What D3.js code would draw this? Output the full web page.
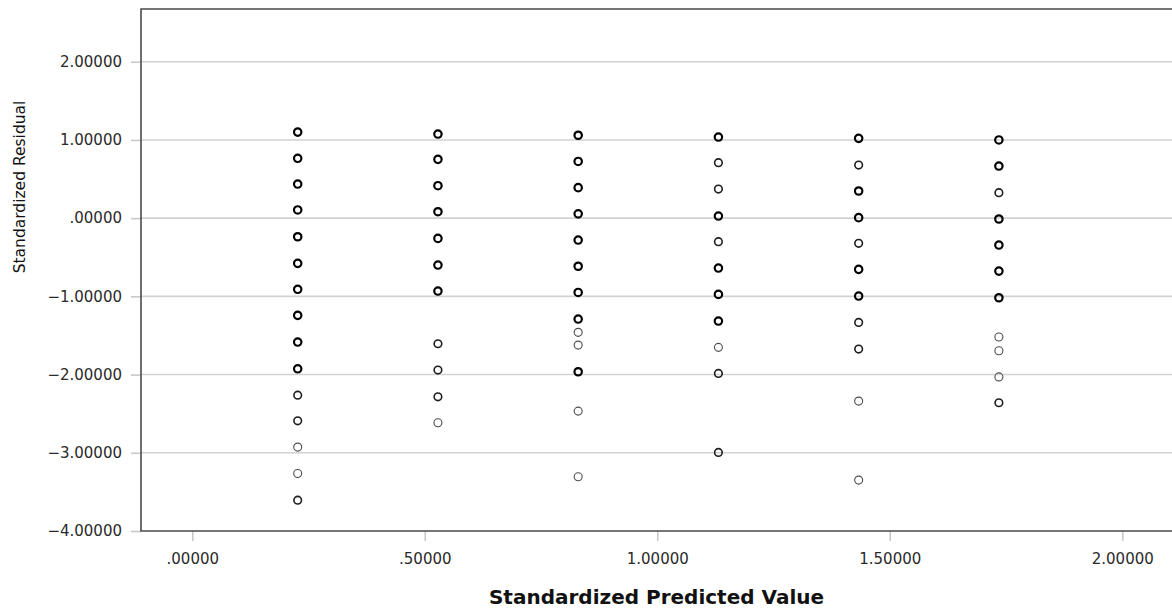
<!DOCTYPE html>
<html>
<head>
<meta charset="utf-8">
<script src="https://cdn.jsdelivr.net/npm/d3@7"></script>
<style>
  body { margin: 0; background: #fff; }
  svg { display: block; }
  .tick-label { font-family: "DejaVu Sans", sans-serif; font-size: 15px; fill: #2a2a2a; }
  .axis-title { font-family: "DejaVu Sans", sans-serif; fill: #111; }
</style>
</head>
<body>
<div id="chart"></div>
<script>
// Standardized predicted value of each column of points
const predicted = [0.2267, 0.5283, 0.8299, 1.1315, 1.4331, 1.7347];

// Standardized residuals (top to bottom)
const residuals = [
    [1.10, 0.765, 0.436, 0.105, -0.238, -0.578, -0.910, -1.243, -1.584, -1.926, -2.263, -2.591, -2.927, -3.264, -3.606],
    [1.075, 0.752, 0.415, 0.082, -0.259, -0.600, -0.932, -1.606, -1.942, -2.284, -2.616],
    [1.06, 0.725, 0.39, 0.055, -0.28, -0.615, -0.95, -1.290, -1.460, -1.623, -1.964, -2.467, -3.307],
    [1.037, 0.709, 0.372, 0.027, -0.301, -0.638, -0.975, -1.316, -1.652, -1.985, -2.995],
    [1.020, 0.679, 0.347, 0.006, -0.322, -0.655, -0.996, -1.333, -1.674, -2.339, -3.349],
    [1.000, 0.666, 0.325, -0.011, -0.344, -0.677, -1.018, -1.520, -1.695, -2.030, -2.360]
];

// How many cases sit on top of each other at each point (drawn darker)
const overlaps = [
    [3, 3, 3, 3, 3, 3, 3, 3, 3, 3, 2, 2, 1, 1, 2],
    [3, 3, 3, 3, 3, 3, 3, 2, 2, 2, 1],
    [3, 3, 3, 3, 3, 3, 3, 3, 1, 1, 3, 1, 1],
    [3, 2, 2, 3, 2, 3, 3, 3, 1, 2, 2],
    [3, 2, 3, 3, 2, 3, 3, 2, 2, 1, 1],
    [3, 3, 2, 3, 3, 3, 3, 1, 1, 1, 2]
];

const yTicks = [2, 1, 0, -1, -2, -3, -4];
const yTickLabels = ["2.00000", "1.00000", ".00000", "\u22121.00000", "\u22122.00000", "\u22123.00000", "\u22124.00000"];
const xTicks = [0, 0.5, 1, 1.5, 2];
const xTickLabels = [".00000", ".50000", "1.00000", "1.50000", "2.00000"];

const xTitle = "Standardized Predicted Value";
const yTitle = "Standardized Residual";

let width = 1172, height = 612;
let plot = {left: 141, top: 9, right: 1172, bottom: 531};

let svg = d3.select("#chart").append("svg")
    .attr("width", width)
    .attr("height", height);

let x = d3.scaleLinear().domain([-0.1103, 2.107]).range([plot.left, plot.right]);
let y = d3.scaleLinear().domain([-4, 2.674]).range([plot.bottom, plot.top]);

// horizontal gridlines
svg.append("g").selectAll("line")
    .data(yTicks.filter(d => d > -4))
    .enter().append("line")
    .attr("x1", plot.left).attr("x2", plot.right)
    .attr("y1", d => y(d)).attr("y2", d => y(d))
    .attr("stroke", "#d2d2d2")
    .attr("stroke-width", 1.6);

// y axis ticks + labels
let yAxis = d3.axisLeft(y)
    .tickValues(yTicks)
    .tickSize(10)
    .tickPadding(9)
    .tickFormat((d, i) => yTickLabels[i]);
let yg = svg.append("g")
    .attr("transform", "translate(" + plot.left + ",0)")
    .call(yAxis);
yg.select(".domain").remove();
yg.selectAll(".tick line").attr("stroke", "#c8c8c8").attr("stroke-width", 1.6);
yg.selectAll(".tick text").attr("class", "tick-label").attr("font-size", null).attr("font-family", null);

// x axis ticks + labels
let xAxis = d3.axisBottom(x)
    .tickValues(xTicks)
    .tickSize(10)
    .tickPadding(12)
    .tickFormat((d, i) => xTickLabels[i]);
let xg = svg.append("g")
    .attr("transform", "translate(0," + plot.bottom + ")")
    .call(xAxis);
xg.select(".domain").remove();
xg.selectAll(".tick line").attr("stroke", "#c8c8c8").attr("stroke-width", 1.6);
xg.selectAll(".tick text").attr("class", "tick-label").attr("font-size", null).attr("font-family", null);

// plot frame (left, top, bottom)
svg.append("path")
    .attr("d", "M" + plot.right + "," + plot.top + "H" + plot.left + "V" + plot.bottom + "H" + plot.right)
    .attr("fill", "none")
    .attr("stroke", "#4a4a4a")
    .attr("stroke-width", 1.6);

// points
let points = [];
for (let c = 0; c < predicted.length; c++) {
    for (let i = 0; i < residuals[c].length; i++) {
        points.push({px: predicted[c], res: residuals[c][i], n: overlaps[c][i]});
    }
}

let strokeFor = {1: "#4d4d4d", 2: "#1e1e1e", 3: "#000"};
let widthFor = {1: 1.1, 2: 1.6, 3: 2.2};
let radiusFor = {1: 4.0, 2: 3.8, 3: 3.7};

svg.append("g").selectAll("circle")
    .data(points)
    .enter().append("circle")
    .attr("cx", d => x(d.px))
    .attr("cy", d => y(d.res))
    .attr("r", d => radiusFor[d.n])
    .attr("fill", "none")
    .attr("stroke", d => strokeFor[d.n])
    .attr("stroke-width", d => widthFor[d.n]);

// axis titles
svg.append("text")
    .attr("class", "axis-title")
    .attr("x", (plot.left + plot.right) / 2)
    .attr("y", 604)
    .attr("text-anchor", "middle")
    .attr("font-size", "20px")
    .attr("font-weight", "bold")
    .text(xTitle);

svg.append("text")
    .attr("class", "axis-title")
    .attr("transform", "translate(25,187) rotate(-90)")
    .attr("text-anchor", "middle")
    .attr("font-size", "15.5px")
    .text(yTitle);
</script>
</body>
</html>
